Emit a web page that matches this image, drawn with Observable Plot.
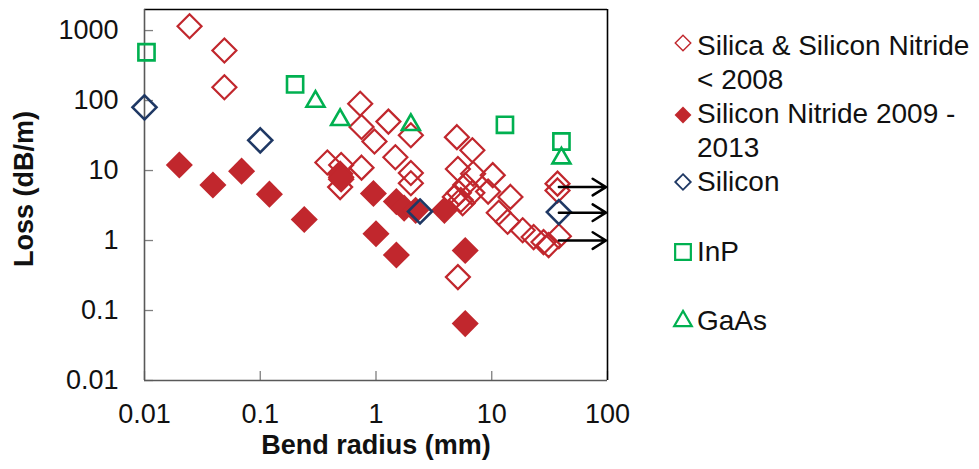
<!DOCTYPE html>
<html>
<head>
<meta charset="utf-8">
<script src="https://cdn.jsdelivr.net/npm/d3@7"></script>
<script src="https://cdn.jsdelivr.net/npm/@observablehq/plot@0.6"></script>
<style>
  html, body { margin: 0; padding: 0; background: #fff; }
  #wrap { position: relative; width: 979px; height: 469px; overflow: hidden; font-family: "Liberation Sans", Arial, sans-serif; }
  #chart { position: absolute; left: 0; top: 0; }
  #legend { position: absolute; left: 0; top: 0; }
</style>
</head>
<body>
<div id="wrap"><div id="chart"></div><svg id="legend" width="979" height="469"></svg></div>
<script>
// ---- Data ----
const seriesNames = ["Silica & Silicon Nitride < 2008", "Silicon Nitride 2009 - 2013", "Silicon", "InP", "GaAs"];

const silicaX = [0.0245, 0.049, 0.049, 0.73, 0.75, 1.28, 0.97, 2.0, 1.47, 0.38, 0.5, 0.75, 0.49, 0.5,
  2.0, 2.0, 5.0, 6.8, 5.1, 6.9, 10.2, 5.9, 5.2, 6.8, 9.3, 14.5, 4.8, 5.4, 5.6,
  11.5, 13.7, 18.5, 23, 28, 31, 38, 37, 37, 5.1];
const silicaY = [1150, 520, 155, 90, 42, 50, 26, 32, 15.5, 13, 12, 11, 5.8, 8,
  9.2, 6.6, 30, 19.5, 10.5, 9, 8.6, 6.2, 4.8, 4.8, 5.0, 4.2, 4.2, 3.8, 3.4,
  2.5, 1.85, 1.4, 1.12, 0.95, 0.86, 1.15, 6.5, 5.2, 0.3];

const sinX = [0.02, 0.039, 0.069, 0.12, 0.24, 0.49, 0.5, 0.95, 1.5, 1.75, 2.2, 3.9, 1.0, 1.5, 5.9, 5.9];
const sinY = [12, 6.2, 9.8, 4.6, 2.0, 9, 7.5, 4.7, 3.6, 2.9, 2.7, 2.7, 1.25, 0.62, 0.72, 0.065];

const siX = [0.01, 0.1, 2.4, 38];
const siY = [80, 27, 2.6, 2.55];

const inpX = [0.0104, 0.2, 13, 40];
const inpY = [490, 170, 45, 26];

const gaasX = [0.3, 0.49, 2.0, 40];
const gaasY = [97, 53, 45, 15];

const arrowY = [5.8, 2.5, 1.0];
const arrowStart = [38, 38, 38];
const arrowEnd = [97, 97, 97];

const xTicks = [0.01, 0.1, 1, 10, 100];
const yTicks = [0.01, 0.1, 1, 10, 100, 1000];
const xDomain = [0.01, 100];
const yDomain = [0.01, 2000];

const xLabel = "Bend radius (mm)";
const yLabel = "Loss (dB/m)";

// ---- Styles ----
const RED = "#C1272D", NAVY = "#1F3864", GREEN = "#00B050", GRAY = "#7f7f7f";

const zip = (xs, ys) => xs.map((x, i) => ({x, y: ys[i]}));
const silica = zip(silicaX, silicaY);
const sin = zip(sinX, sinY);
const si = zip(siX, siY);
const inp = zip(inpX, inpY);
const gaas = zip(gaasX, gaasY);
const arrows = arrowY.map((y, i) => ({y, x1: arrowStart[i], x2: arrowEnd[i]}));

const W = 640, H = 469, ML = 144, MR = 33, MT = 9, MB = 89;
const frameW = W - ML - MR, frameH = H - MT - MB;
const TICK = 9;

const chart = Plot.plot({
  width: W, height: H,
  marginLeft: ML, marginRight: MR, marginTop: MT, marginBottom: MB,
  x: {type: "log", domain: xDomain},
  y: {type: "log", domain: yDomain},
  style: {fontFamily: "'Liberation Sans', Arial, sans-serif", fontSize: "27px", color: "#111", background: "#fff", overflow: "visible"},
  marks: [
    // inward ticks
    Plot.tickY(yTicks, {y: d => d, stroke: GRAY, strokeWidth: 1.3, insetRight: frameW - TICK}),
    Plot.tickX(xTicks, {x: d => d, stroke: GRAY, strokeWidth: 1.3, insetTop: frameH - TICK}),
    // frame
    Plot.ruleY([yDomain[1]], {stroke: "#000", strokeWidth: 1.6}),
    Plot.ruleX([xDomain[1]], {stroke: "#000", strokeWidth: 1.6}),
    Plot.ruleX([xDomain[0]], {stroke: "#595959", strokeWidth: 1.6}),
    Plot.ruleY([yDomain[0]], {stroke: "#595959", strokeWidth: 1.6}),
    Plot.axisX({ticks: xTicks, tickSize: 0, tickPadding: 23, tickFormat: d => String(d), label: null, fontSize: 27}),
    Plot.axisY({ticks: yTicks, tickSize: 0, tickPadding: 26, tickFormat: d => String(d), label: null, fontSize: 27}),
    Plot.text([xLabel], {text: d => d, frameAnchor: "bottom", textAnchor: "middle", lineAnchor: "middle", dy: 65, fontWeight: "bold", fontSize: 27, fill: "#111"}),
    Plot.text([yLabel], {text: d => d, frameAnchor: "left", textAnchor: "middle", lineAnchor: "middle", rotate: -90, dx: -120, dy: -6, fontWeight: "bold", fontSize: 27, fill: "#111"}),
    // series
    Plot.dot(silica, {x: "x", y: "y", symbol: "diamond2", r: 10.8, stroke: RED, strokeWidth: 2.2, fill: "none"}),
    Plot.dot(sin, {x: "x", y: "y", symbol: "diamond2", r: 12.2, fill: RED, stroke: "none"}),
    Plot.dot(si, {x: "x", y: "y", symbol: "diamond2", r: 10.8, stroke: NAVY, strokeWidth: 2.6, fill: "none"}),
    Plot.dot(inp, {x: "x", y: "y", symbol: "square2", r: 10.3, stroke: GREEN, strokeWidth: 2.6, fill: "none"}),
    Plot.dot(gaas, {x: "x", y: "y", symbol: "triangle2", r: 8.6, stroke: GREEN, strokeWidth: 2.6, fill: "none"}),
    Plot.arrow(arrows, {x1: "x1", x2: "x2", y1: "y", y2: "y", stroke: "#000", strokeWidth: 2.5, headLength: 16, headAngle: 64})
  ]
});
document.getElementById("chart").append(chart);

// ---- Legend ----
const legend = d3.select("#legend");
const LX = 683, TX = 697;
const items = [
  {sym: d3.symbolDiamond2, r: 7, fill: "none", stroke: RED, sw: 1.4, cy: 43, lines: ["Silica & Silicon Nitride", "< 2008"], base: 55},
  {sym: d3.symbolDiamond2, r: 7.6, fill: RED, stroke: "none", sw: 0, cy: 115, lines: ["Silicon Nitride 2009 -", "2013"], base: 123},
  {sym: d3.symbolDiamond2, r: 7, fill: "none", stroke: NAVY, sw: 1.8, cy: 182, lines: ["Silicon"], base: 191},
  {sym: d3.symbolSquare2, r: 10, fill: "none", stroke: GREEN, sw: 2.2, cy: 252, lines: ["InP"], base: 261},
  {sym: d3.symbolTriangle2, r: 8.4, fill: "none", stroke: GREEN, sw: 2.2, cy: 321, lines: ["GaAs"], base: 330}
];
items.forEach((it, i) => {
  legend.append("path")
    .attr("d", d3.symbol(it.sym, Math.PI * it.r * it.r)())
    .attr("transform", `translate(${LX},${it.cy})`)
    .attr("fill", it.fill).attr("stroke", it.stroke).attr("stroke-width", it.sw);
  const t = legend.append("text")
    .attr("x", TX).attr("y", it.base)
    .attr("font-family", "'Liberation Sans', Arial, sans-serif")
    .attr("font-size", 28).attr("fill", "#111");
  it.lines.forEach((ln, j) => {
    t.append("tspan").attr("x", TX).attr("dy", j === 0 ? 0 : 34).text(ln);
  });
});
</script>
</body>
</html>
